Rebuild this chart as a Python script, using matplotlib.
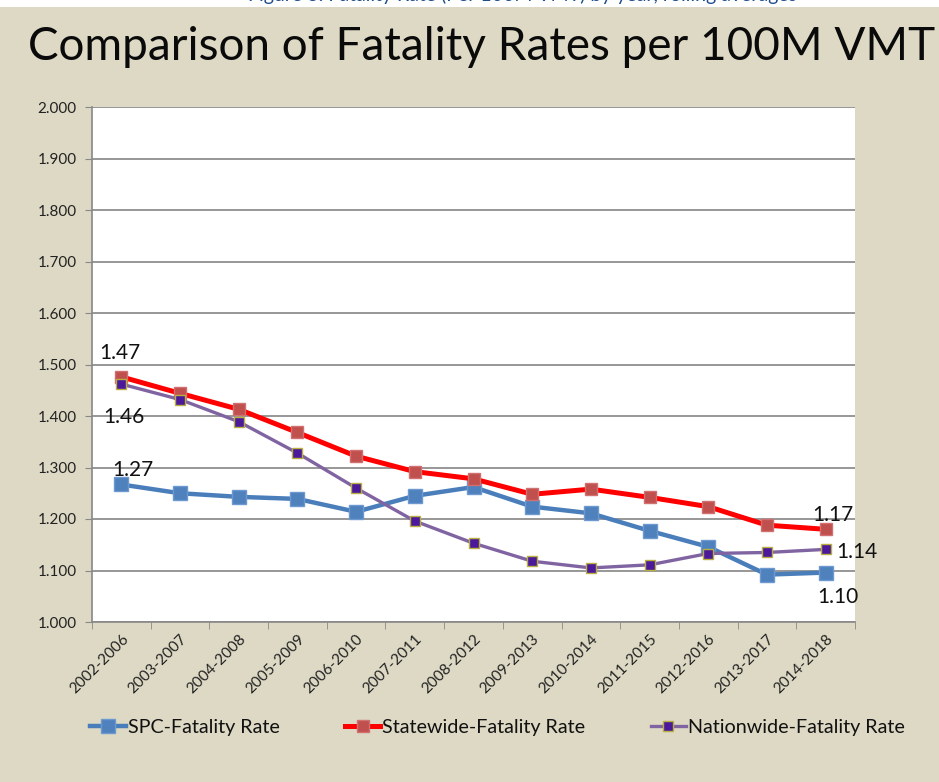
import numpy as np
import matplotlib
matplotlib.use("Agg")
import matplotlib.pyplot as plt
from matplotlib.patches import Rectangle

# rolling 5-year periods
periods = ["2002-2006", "2003-2007", "2004-2008", "2005-2009", "2006-2010",
           "2007-2011", "2008-2012", "2009-2013", "2010-2014", "2011-2015",
           "2012-2016", "2013-2017", "2014-2018"]

# fatality rates per 100M VMT
spc = [1.267, 1.250, 1.243, 1.239, 1.214, 1.245, 1.262, 1.224, 1.211,
       1.177, 1.146, 1.092, 1.096]
statewide = [1.476, 1.444, 1.413, 1.368, 1.322, 1.292, 1.278, 1.248, 1.258,
             1.242, 1.224, 1.188, 1.180]
nationwide = [1.462, 1.432, 1.389, 1.328, 1.260, 1.196, 1.153, 1.118, 1.105,
              1.111, 1.133, 1.135, 1.141]

# value labels shown on the chart
labels = ["1.47", "1.46", "1.27", "1.17", "1.14", "1.10"]
label_pos = [(-0.02, 1.522), (0.05, 1.398), (0.2, 1.295),
             (12.13, 1.208), (12.54, 1.136), (12.21, 1.049)]

FONT = ["Lato", "DejaVu Sans"]
plt.rcParams["font.family"] = FONT

bg = "#DDD9C4"
fig = plt.figure(figsize=(9.39, 7.82), dpi=100, facecolor=bg)

# white strip at the very top with clipped caption text
fig.patches.append(Rectangle((0, 1 - 7 / 782), 1, 7 / 782, transform=fig.transFigure,
                             facecolor="white", edgecolor="none", zorder=0))
fig.text(0.556, 1 - 1.5 / 782, "Figure 3: Fatality Rate (Per 100M VMT) by year, rolling averages",
         ha="center", va="baseline", fontsize=14, color="#1F4E8C")

fig.text(0.513, 1 - 47 / 782, "Comparison of Fatality Rates per 100M VMT",
         ha="center", va="center", fontsize=33, color="#0A0A0A")

ax = fig.add_axes([92 / 939, 1 - 622 / 782, (855 - 92) / 939, (622 - 107) / 782])
ax.set_facecolor("white")

x = np.arange(len(periods))
ax.plot(x, spc, color="#4A7EBB", lw=3.2, marker="s", ms=9.5,
        mfc="#4F81BD", mec="#6C9AD0", mew=1, label="SPC-Fatality Rate", zorder=3)
ax.plot(x, statewide, color="#FF0000", lw=3.6, marker="s", ms=9,
        mfc="#C0504D", mec="#D07070", mew=1, label="Statewide-Fatality Rate", zorder=4)
ax.plot(x, nationwide, color="#8064A2", lw=2.4, marker="s", ms=7.5,
        mfc="#4B1A9A", mec="#B8B040", mew=1, label="Nationwide-Fatality Rate", zorder=5)

for t, (px, py) in zip(labels, label_pos):
    ax.text(px, py, t, ha="center", va="center", fontsize=15, color="#111111")

ax.set_xlim(-0.5, len(periods) - 0.5)
ax.set_ylim(1.0, 2.0)
ax.set_yticks(np.arange(1.0, 2.001, 0.1))
ax.set_yticklabels(["%.3f" % v for v in np.arange(1.0, 2.001, 0.1)])
ax.set_xticks(x)
ax.set_xticklabels(periods, rotation=45, ha="right", rotation_mode="anchor")
ax.set_xticks(np.arange(-0.5, len(periods), 1.0), minor=True)
ax.tick_params(axis="x", which="major", length=0, pad=7, labelsize=11, labelcolor="#222222")
ax.tick_params(axis="x", which="minor", length=5, color="#888888", direction="out")
ax.tick_params(axis="y", length=5, color="#888888", labelsize=11, labelcolor="#222222", pad=6)

ax.grid(axis="y", color="#858585", lw=1.2)
ax.set_axisbelow(True)
for s in ["top", "right"]:
    ax.spines[s].set_visible(False)
for s in ["left", "bottom"]:
    ax.spines[s].set_color("#888888")
    ax.spines[s].set_linewidth(1.2)

fig.legend(loc="center", bbox_to_anchor=(0.53, 1 - 727 / 782), ncol=3, frameon=False,
           fontsize=14.2, handlelength=1.8, handletextpad=0.1, columnspacing=3.3,
           labelcolor="#111111")

fig.savefig("out.png", dpi=100, facecolor=bg)
